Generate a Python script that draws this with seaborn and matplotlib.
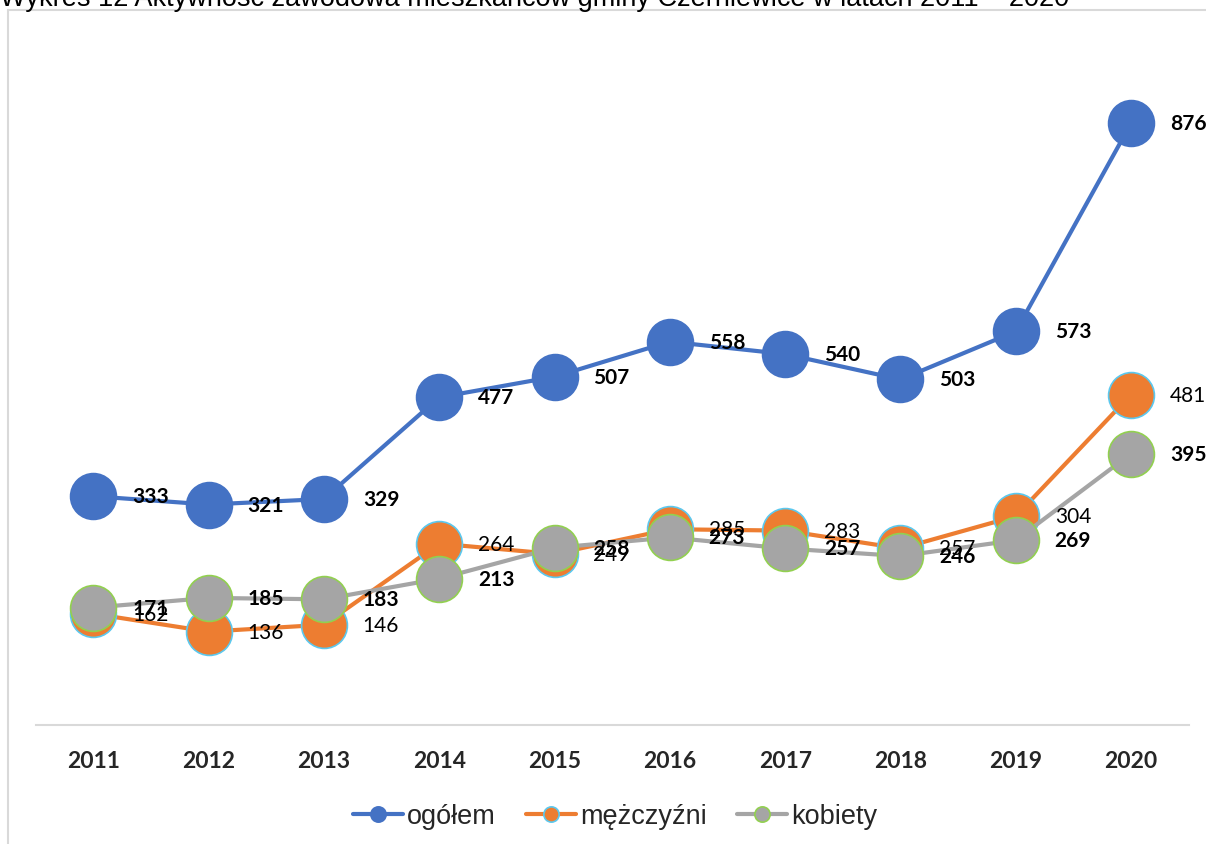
import numpy as np
import pandas as pd
import matplotlib
matplotlib.use("Agg")
import matplotlib.pyplot as plt
from matplotlib.lines import Line2D
import seaborn as sns

# Data
years = ["2011", "2012", "2013", "2014", "2015", "2016", "2017", "2018", "2019", "2020"]
ogolem = [333, 321, 329, 477, 507, 558, 540, 503, 573, 876]
mezczyzni = [162, 136, 146, 264, 249, 285, 283, 257, 304, 481]
kobiety = [171, 185, 183, 213, 258, 273, 257, 246, 269, 395]

series_names = ["ogółem", "mężczyźni", "kobiety"]
series_values = [ogolem, mezczyzni, kobiety]
line_colors = ["#4472C4", "#ED7D31", "#A5A5A5"]
edge_colors = ["#4472C4", "#5BC8EE", "#92D050"]
label_bold = [True, False, True]

title = "Wykres 12 Aktywność zawodowa mieszkańców gminy Czerniewice w latach 2011 – 2020"

sns.set_style("white")
plt.rcParams["font.family"] = ["Liberation Sans", "DejaVu Sans"]

fig = plt.figure(figsize=(12.06, 8.45), dpi=100)
ax = fig.add_axes([0.0295, 0.1408, 0.9562, 0.813])

x = np.arange(len(years))
for name, vals, lc, ec, bold in zip(series_names, series_values, line_colors, edge_colors, label_bold):
    df = pd.DataFrame({"x": x, "y": vals})
    sns.lineplot(data=df, x="x", y="y", ax=ax, color=lc, linewidth=3,
                 marker="o", markersize=33, markeredgecolor=ec,
                 markeredgewidth=1.2, markerfacecolor=lc, label=name)
    for xi, v in zip(x, vals):
        ax.annotate(str(v), (xi, v), xytext=(28, 0), textcoords="offset points",
                    va="center", ha="left", fontsize=15, family="Lato",
                    fontweight="bold" if bold else "normal", color="black")

ax.set_xlim(-0.5, len(years) - 0.5)
ax.set_ylim(0, 1000)
ax.set_xticks(x)
ax.set_xticklabels(years, fontsize=16.5, fontweight="bold", family="Lato")
ax.tick_params(axis="x", length=0, pad=18)
ax.set_yticks([])
ax.set_xlabel("")
ax.set_ylabel("")
for s in ["top", "right", "left"]:
    ax.spines[s].set_visible(False)
ax.spines["bottom"].set_color("#D9D9D9")
ax.spines["bottom"].set_linewidth(1.5)
ax.get_legend().remove()

# legend with small markers
handles = [Line2D([0], [0], color=lc, linewidth=3, marker="o", markersize=11,
                  markerfacecolor=lc, markeredgecolor=ec, markeredgewidth=1.2)
           for lc, ec in zip(line_colors, edge_colors)]
fig.legend(handles, series_names, loc="center", bbox_to_anchor=(0.51, 0.033),
           ncol=3, frameon=False, fontsize=19.5, handlelength=1.85,
           handletextpad=0.15, columnspacing=1.1)

# chart border (partly outside the image)
fig.add_artist(Line2D([7.5 / 1206, 7.5 / 1206], [0, 1 - 10.5 / 845],
                      transform=fig.transFigure, color="#D9D9D9", linewidth=1.5))
fig.add_artist(Line2D([7.5 / 1206, 1], [1 - 10.5 / 845, 1 - 10.5 / 845],
                      transform=fig.transFigure, color="#D9D9D9", linewidth=1.5))

# title, mostly cut off at the top edge
fig.text(0.0, 1 - 6 / 845, title, ha="left", va="baseline", fontsize=19.5, color="black")

fig.savefig("out.png", dpi=100)
